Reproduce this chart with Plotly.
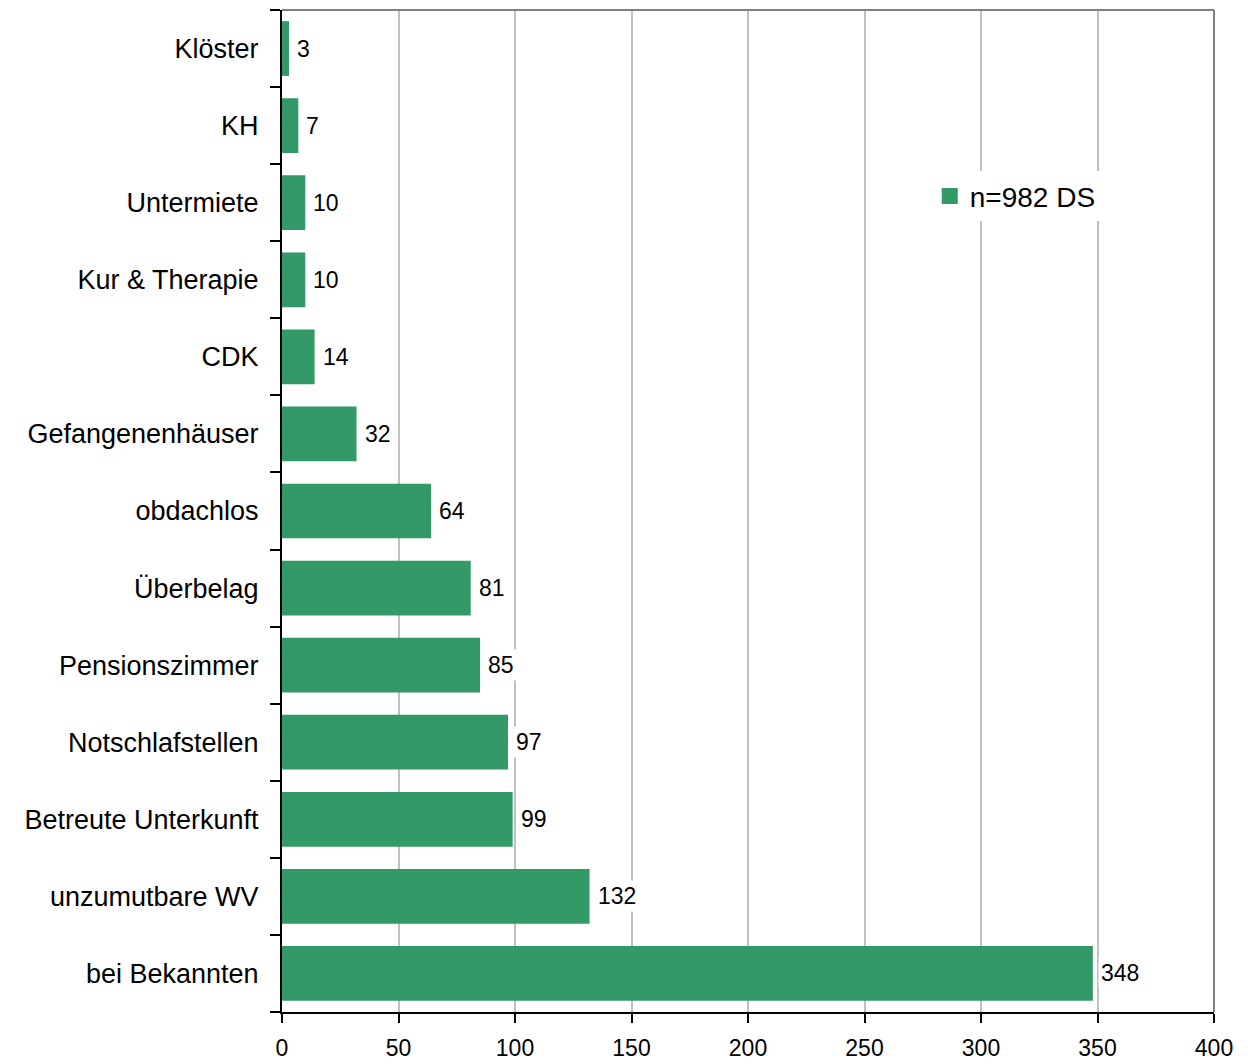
import plotly.graph_objects as go

categories = ["bei Bekannten", "unzumutbare WV", "Betreute Unterkunft", "Notschlafstellen",
              "Pensionszimmer", "Überbelag", "obdachlos", "Gefangenenhäuser", "CDK",
              "Kur & Therapie", "Untermiete", "KH", "Klöster"]
values = [348, 132, 99, 97, 85, 81, 64, 32, 14, 10, 10, 7, 3]
x_ticks = [0, 50, 100, 150, 200, 250, 300, 350, 400]
series_name = "n=982 DS"

GREEN = "#339966"
FONT = "Liberation Sans, Arial, sans-serif"

fig = go.Figure()
fig.add_trace(go.Bar(
    y=categories, x=values, orientation="h", name=series_name,
    marker=dict(color=GREEN, line=dict(width=0)),
    showlegend=False,
))
# legend entry with a larger square symbol
fig.add_trace(go.Scatter(
    x=[None], y=[None], mode="markers", name=series_name,
    marker=dict(symbol="square", color=GREEN, size=17),
    showlegend=True, hoverinfo="skip",
))

for c, v in zip(categories, values):
    fig.add_annotation(x=v, y=c, text=str(v), showarrow=False, xanchor="left",
                       xshift=5, bgcolor="white", borderpad=2,
                       font=dict(family=FONT, size=23, color="black"))

fig.update_layout(
    width=1242, height=1055,
    margin=dict(l=274, r=36, t=2, b=51, autoexpand=False),
    paper_bgcolor="white", plot_bgcolor="white",
    bargap=0.29,
    font=dict(family=FONT, color="black"),
    legend=dict(x=0.695, y=0.814, xanchor="left", yanchor="middle",
                bgcolor="white", font=dict(family=FONT, size=28),
                itemwidth=30, itemsizing="trace"),
    xaxis=dict(range=[0, 400], tickvals=x_ticks, showgrid=True,
               gridcolor="#c0c0c0", gridwidth=2, zeroline=False,
               showline=True, linecolor="black", linewidth=2,
               ticks="outside", ticklen=9, tickwidth=2, tickcolor="black",
               tickfont=dict(family=FONT, size=23), ticklabelstandoff=5,
               automargin=False, mirror=False),
    yaxis=dict(categoryorder="array", categoryarray=categories,
               showline=True, linecolor="black", linewidth=2,
               ticks="outside", tickson="boundaries", ticklen=10, tickwidth=2,
               tickcolor="black", showgrid=False, automargin=False,
               tickfont=dict(family=FONT, size=27), ticklabelstandoff=16),
)

# top and right gray border
fig.add_shape(type="line", xref="paper", yref="paper", x0=0, x1=1, y0=1, y1=1,
              line=dict(color="#808080", width=2))
fig.add_shape(type="line", xref="paper", yref="paper", x0=1, x1=1, y0=0, y1=1,
              line=dict(color="#808080", width=2))

fig.write_html("out.html")
